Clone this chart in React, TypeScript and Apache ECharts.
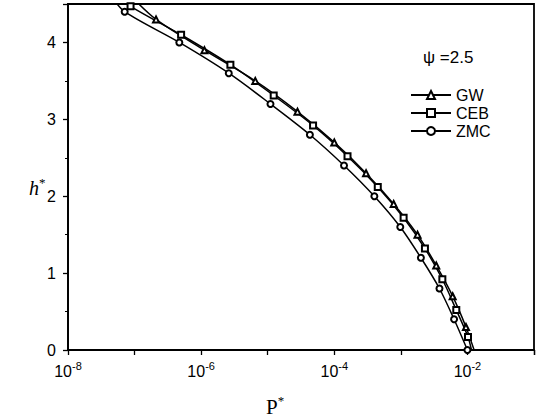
import React, { useEffect, useRef } from "react";
import * as echarts from "echarts";

// ZMC (circles)
const zmcP = [4.5e-8, 7.1e-8, 4.7e-7, 2.6e-6, 1.1e-5, 4.3e-5, 1.4e-4, 4.0e-4, 9.8e-4, 2.0e-3, 3.8e-3, 6.3e-3, 1.0e-2];
const zmcH = [4.6, 4.4, 4.0, 3.6, 3.2, 2.8, 2.4, 2.0, 1.6, 1.2, 0.8, 0.4, 0.0];
// CEB (squares)
const cebP = [7.1e-8, 8.7e-8, 5.0e-7, 2.75e-6, 1.23e-5, 4.8e-5, 1.58e-4, 4.5e-4, 1.1e-3, 2.3e-3, 4.2e-3, 6.8e-3, 1.02e-2, 1.15e-2];
const cebH = [4.55, 4.47, 4.1, 3.71, 3.31, 2.92, 2.52, 2.12, 1.72, 1.32, 0.92, 0.52, 0.17, 0.0];
// GW (triangles)
const gwP = [8.9e-8, 2.1e-7, 1.12e-6, 6.5e-6, 2.8e-5, 1.0e-4, 3.0e-4, 7.8e-4, 1.78e-3, 3.4e-3, 6.0e-3, 9.5e-3, 1.26e-2];
const gwH = [4.6, 4.3, 3.9, 3.5, 3.1, 2.7, 2.3, 1.9, 1.5, 1.1, 0.7, 0.3, 0.0];

const yTicks = [0, 1, 2, 3, 4];
const psiLabel = "ψ =2.5";

const SANS = "'Liberation Sans', Arial, sans-serif";
const SERIF = "'Liberation Serif', 'Times New Roman', serif";

function build(P: number[], H: number[], hideFirst: boolean, hideLast: boolean) {
  return P.map((p, i) => {
    const item: any = { value: [p, H[i]] };
    if ((hideFirst && i === 0) || (hideLast && i === P.length - 1)) item.symbol = "none";
    return item;
  });
}

export default function App() {
  const ref = useRef<HTMLDivElement>(null);
  useEffect(() => {
    if (!ref.current) return;
    const chart = echarts.init(ref.current, undefined, { renderer: "svg" });
    const lineStyle = { color: "#000", width: 1.5 };
    const itemStyle = { color: "#000", borderColor: "#000", borderWidth: 1 };
    chart.setOption({
      animation: false,
      backgroundColor: "#fff",
      grid: { left: 68, right: 1, top: 4, bottom: 68, show: true, borderColor: "#000", borderWidth: 1.8 },
      xAxis: {
        type: "log",
        logBase: 10,
        min: 1e-8,
        max: 1e-1,
        axisLine: { lineStyle: { color: "#000", width: 1.8 } },
        axisTick: { show: true, length: 5, lineStyle: { color: "#000", width: 1.3 } },
        splitLine: { show: false },
        axisLabel: {
          margin: 10,
          color: "#000",
          formatter: (v: number) => {
            const e = Math.round(Math.log10(v));
            return e % 2 === 0 ? `{b|10}{s|${e}}` : "";
          },
          rich: {
            b: { fontSize: 16, fontFamily: SANS, color: "#000", verticalAlign: "bottom" },
            s: { fontSize: 11, fontFamily: SANS, color: "#000", verticalAlign: "bottom", padding: [0, 0, 8, 0] },
          },
        },
      },
      yAxis: {
        type: "value",
        min: 0,
        max: 4.5,
        interval: 1,
        axisLine: { show: true, lineStyle: { color: "#000", width: 1.8 } },
        axisTick: { show: true, length: 5, lineStyle: { color: "#000", width: 1.3 } },
        minorTick: { show: true, splitNumber: 2, length: 3, lineStyle: { color: "#000", width: 1 } },
        splitLine: { show: false },
        axisLabel: {
          margin: 12,
          color: "#000",
          fontSize: 16,
          fontFamily: SANS,
          formatter: (v: number) => (yTicks.includes(v) ? String(v) : ""),
        },
      },
      legend: {
        orient: "vertical",
        left: 405,
        top: 82,
        itemWidth: 40,
        itemHeight: 10,
        itemGap: 2,
        textStyle: { fontSize: 16, fontFamily: SANS, color: "#000" },
        data: ["GW", "CEB", "ZMC"],
      },
      graphic: [
        {
          type: "text",
          left: 423,
          top: 49,
          style: { text: psiLabel, font: `17px ${SANS}`, fill: "#000" },
        },
        {
          type: "text",
          left: 29,
          top: 176,
          style: {
            text: "{i|h}{s|*}",
            rich: {
              i: { font: `italic 20px ${SERIF}`, fill: "#000", verticalAlign: "bottom" },
              s: { font: `13px ${SERIF}`, fill: "#000", verticalAlign: "bottom", padding: [0, 0, 9, 0] },
            },
          },
        },
        {
          type: "text",
          left: 266,
          top: 394,
          style: {
            text: "{i|P}{s|*}",
            rich: {
              i: { font: `21px ${SERIF}`, fill: "#000", verticalAlign: "bottom" },
              s: { font: `13px ${SERIF}`, fill: "#000", verticalAlign: "bottom", padding: [0, 0, 10, 0] },
            },
          },
        },
      ],
      series: [
        {
          name: "GW",
          type: "line",
          symbol: "emptyTriangle",
          symbolSize: 6,
          smooth: 0.3,
          clip: true,
          lineStyle,
          itemStyle,
          data: build(gwP, gwH, true, true),
        },
        {
          name: "CEB",
          type: "line",
          symbol: "emptyRect",
          symbolSize: 6,
          smooth: 0.3,
          clip: true,
          lineStyle,
          itemStyle,
          data: build(cebP, cebH, true, true),
        },
        {
          name: "ZMC",
          type: "line",
          symbol: "emptyCircle",
          symbolSize: 6,
          smooth: 0.3,
          clip: true,
          lineStyle,
          itemStyle,
          data: build(zmcP, zmcH, true, false),
        },
      ],
    });
    return () => chart.dispose();
  }, []);
  return (
    <div
      ref={ref}
      style={{ position: "absolute", left: 0, top: 0, width: 537, height: 418, background: "#fff" }}
    />
  );
}
